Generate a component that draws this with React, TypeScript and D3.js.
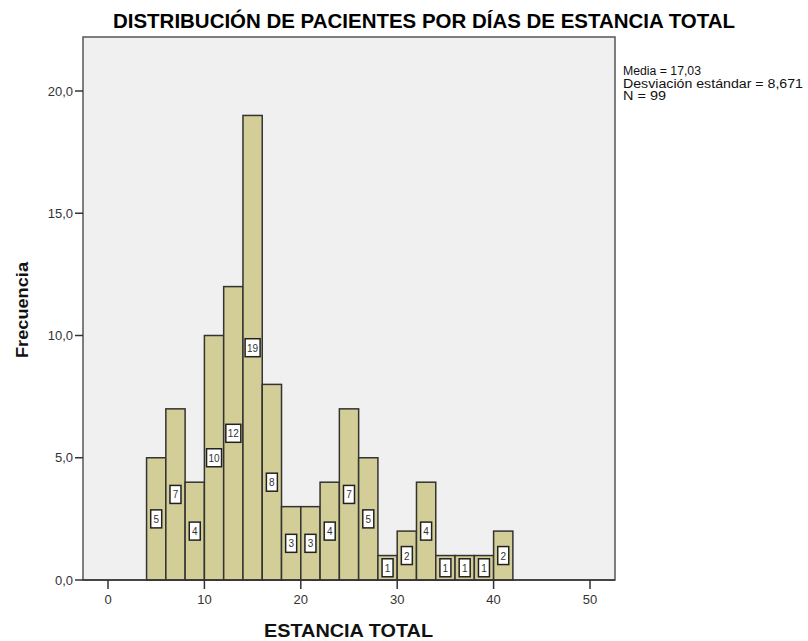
import React from "react";
import * as d3 from "d3";

const binStarts = [4, 6, 8, 10, 12, 14, 16, 18, 20, 22, 24, 26, 28, 30, 32, 34, 36, 38, 40];
const counts = [5, 7, 4, 10, 12, 19, 8, 3, 3, 4, 7, 5, 1, 2, 4, 1, 1, 1, 2];
const binWidth = 2;
const xTicks = [0, 10, 20, 30, 40, 50];
const yTicks = [0, 5, 10, 15, 20];
const statsLines = ["Media = 17,03", "Desviación estándar = 8,671", "N = 99"];
const title = "DISTRIBUCIÓN DE PACIENTES POR DÍAS DE ESTANCIA TOTAL";

export default function App() {
  const W = 808, H = 641;
  const left = 83, right = 615, top = 37, bottom = 580;
  const x = d3.scaleLinear().domain([0, 50]).range([108, 590]);
  const y = d3.scaleLinear().domain([0, 20]).range([bottom, 91]);
  const font = "'Liberation Sans', Arial, sans-serif";
  const fmt = (v: number) => v.toFixed(1).replace(".", ",");
  const statsWidths = [78, 180, 43];
  return (
    <svg width={W} height={H} style={{ position: "absolute", left: 0, top: 0 }} fontFamily={font}>
      <rect x={0} y={0} width={W} height={H} fill="#ffffff" />
      <text x={113} y={28} fontSize={21} fontWeight="bold" fill="#000" textLength={622} lengthAdjust="spacingAndGlyphs">{title}</text>
      <rect x={left} y={top} width={right - left} height={bottom - top} fill="#f0f0f0" stroke="#555" strokeWidth={1.5} />
      {binStarts.map((s, i) => (
        <rect key={"b" + i} x={x(s)} y={y(counts[i])} width={x(s + binWidth) - x(s)} height={bottom - y(counts[i])} fill="#d3ce97" stroke="#333" strokeWidth={1.5} />
      ))}
      {binStarts.map((s, i) => {
        const cx = (x(s) + x(s + binWidth)) / 2;
        const cy = y(counts[i] / 2);
        const label = String(counts[i]);
        const w = label.length > 1 ? 15 : 11;
        return (
          <g key={"l" + i}>
            <rect x={cx - w / 2} y={cy - 9} width={w} height={18} fill="#fff" stroke="#222" strokeWidth={1.5} />
            <text x={cx} y={cy + 4} textAnchor="middle" fontSize={10} fill="#333">{label}</text>
          </g>
        );
      })}
      <line x1={left} x2={right} y1={bottom} y2={bottom} stroke="#333" strokeWidth={1.5} />
      {yTicks.map((t) => (
        <g key={"y" + t}>
          <line x1={75} x2={left} y1={y(t)} y2={y(t)} stroke="#333" strokeWidth={1.5} />
          <text x={73} y={y(t) + 4.5} textAnchor="end" fontSize={13} fill="#333">{fmt(t)}</text>
        </g>
      ))}
      {xTicks.map((t) => (
        <g key={"x" + t}>
          <line x1={x(t)} x2={x(t)} y1={bottom} y2={bottom + 9} stroke="#333" strokeWidth={1.5} />
          <text x={x(t)} y={604} textAnchor="middle" fontSize={13} fill="#333">{t}</text>
        </g>
      ))}
      <text x={264} y={637} fontSize={18} fontWeight="bold" fill="#111" textLength={169} lengthAdjust="spacingAndGlyphs">ESTANCIA TOTAL</text>
      <text transform="translate(28,358) rotate(-90)" fontSize={17} fontWeight="bold" fill="#111" textLength={96} lengthAdjust="spacingAndGlyphs">Frecuencia</text>
      {statsLines.map((l, i) => (
        <text key={"s" + i} x={623} y={75 + i * 12.5} fontSize={12} fill="#111" textLength={statsWidths[i]} lengthAdjust="spacingAndGlyphs">{l}</text>
      ))}
    </svg>
  );
}
